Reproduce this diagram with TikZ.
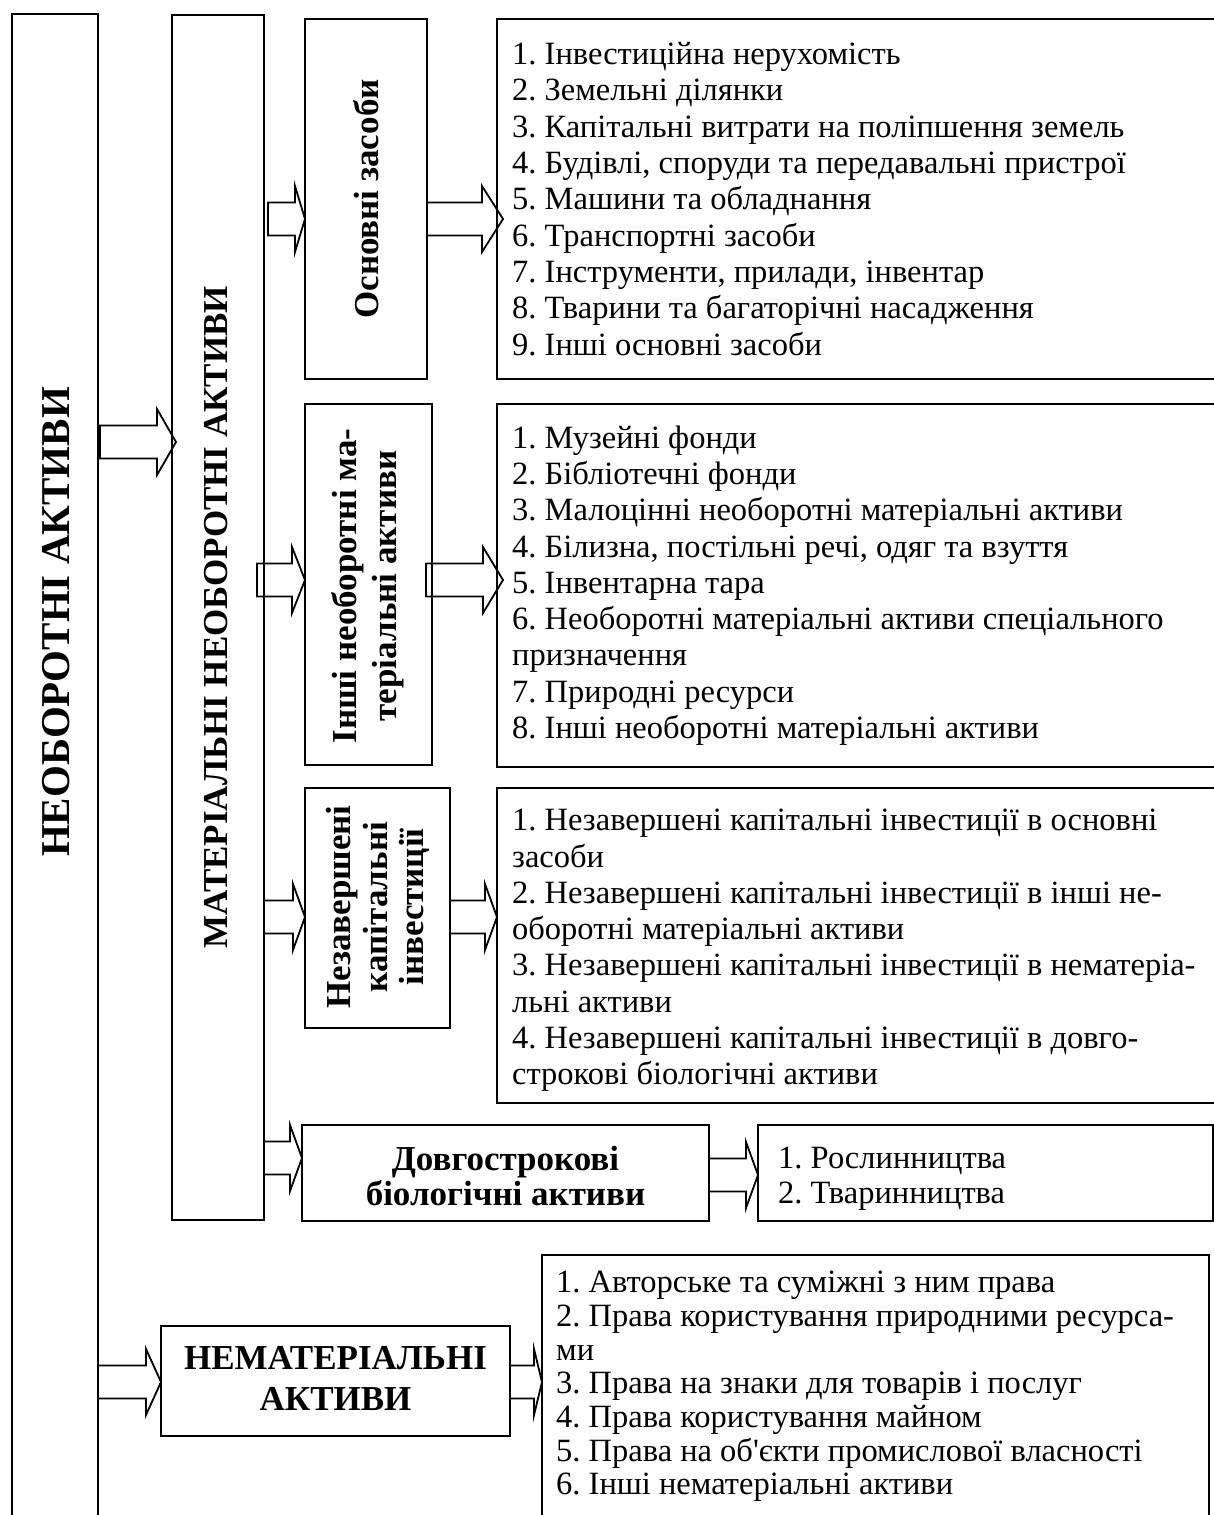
\documentclass[tikz,border=0pt]{standalone}
\usepackage{fontspec}
\setmainfont{Liberation Serif}[Ligatures=TeXOff]
\usetikzlibrary{calc}
\frenchspacing

\tikzset{
  frame/.style={draw, line width=1.8pt, inner sep=0pt, outer sep=0pt, anchor=north west},
  listtext/.style={font=\fontsize{32.5}{36.3}\selectfont, align=left, anchor=west, inner sep=0pt},
  headtext/.style={font=\bfseries\fontsize{35}{38}\selectfont, align=center, inner sep=0pt},
  vhead/.style={headtext, rotate=90},
  arrowline/.style={draw, line width=1.8pt, line join=miter},
}

% outlined block arrow: tail point, tip point, head length
\newcommand\blockarrow[3]{%
  \draw[arrowline] let \p1=(#1), \p2=(#2) in
    (\x1,\y2+16.5pt) -- (\x2-#3,\y2+16.5pt) -- (\x2-#3,\y2+33pt) -- (\x2,\y2)
    -- (\x2-#3,\y2-33pt) -- (\x2-#3,\y2-16.5pt) -- (\x1,\y2-16.5pt) -- cycle;}

\begin{document}
\begin{tikzpicture}[x=1pt, y=-1pt]
\useasboundingbox (0,0) rectangle (1214,1515);
\fill[white] (0,0) rectangle (1214,1515);
\clip (0,0) rectangle (1214,1515);

% main columns
\node[frame, minimum width=86pt, minimum height=1540pt] (b1) at (12,14) {};
\node[frame, minimum width=92pt, minimum height=1205pt] (b2) at (172,15) {};

% tangible assets: category boxes and their lists
\node[frame, minimum width=122pt, minimum height=360pt] (b3) at (305,19) {};
\node[frame, minimum width=721pt, minimum height=360pt] (b4) at (497,19) {};
\node[frame, minimum width=127pt, minimum height=361pt] (b5) at (305,404) {};
\node[frame, minimum width=721pt, minimum height=363pt] (b6) at (497,404) {};
\node[frame, minimum width=145pt, minimum height=240pt] (b7) at (305,788) {};
\node[frame, minimum width=721pt, minimum height=315pt] (b8) at (497,788) {};
\node[frame, minimum width=407pt, minimum height=96pt] (b9) at (302,1125) {};
\node[frame, minimum width=455pt, minimum height=96pt] (b10) at (758,1125) {};

% intangible assets
\node[frame, minimum width=349pt, minimum height=110pt] (b11) at (161,1326) {};
\node[frame, minimum width=667pt, minimum height=300pt] (b12) at (542,1255) {};

% vertical titles
\node[vhead, font=\bfseries\fontsize{41}{45}\selectfont] (t1) at (56,622) {НЕОБОРОТНІ АКТИВИ};
\node[vhead] (t2) at (216,617) {МАТЕРІАЛЬНІ НЕОБОРОТНІ АКТИВИ};
\node[vhead] (t3) at (366,199) {Основні засоби};
\node[vhead, font=\bfseries\fontsize{35}{40}\selectfont] (t5) at (368,586) {Інші необоротні ма-\\теріальні активи};
\node[vhead, font=\bfseries\fontsize{35}{36.5}\selectfont] (t7) at (378,907) {Незавершені\\капітальні\\інвестиції};

% horizontal titles
\node[headtext, font=\bfseries\fontsize{35}{35}\selectfont] (t9) at ($(b9.center)+(0,3)$) {Довгострокові\\біологічні активи};
\node[headtext, font=\bfseries\fontsize{35}{41}\selectfont] (t11) at ($(b11.center)+(0,-3)$) {НЕМАТЕРІАЛЬНІ\\АКТИВИ};

% lists
\node[listtext] (l4) at ($(b4.west)+(15,0)$) {1. Інвестиційна нерухомість\\
2. Земельні ділянки\\
3. Капітальні витрати на поліпшення земель\\
4. Будівлі, споруди та передавальні пристрої\\
5. Машини та обладнання\\
6. Транспортні засоби\\
7. Інструменти, прилади, інвентар\\
8. Тварини та багаторічні насадження\\
9. Інші основні засоби};

\node[listtext] (l6) at ($(b6.west)+(15,0)$) {1. Музейні фонди\\
2. Бібліотечні фонди\\
3. Малоцінні необоротні матеріальні активи\\
4. Білизна, постільні речі, одяг та взуття\\
5. Інвентарна тара\\
6. Необоротні матеріальні активи спеціального\\
призначення\\
7. Природні ресурси\\
8. Інші необоротні матеріальні активи};

\node[listtext] (l8) at ($(b8.west)+(15,5)$) {1. Незавершені капітальні інвестиції в основні\\
засоби\\
2. Незавершені капітальні інвестиції в інші не-\\
оборотні матеріальні активи\\
3. Незавершені капітальні інвестиції в нематеріа-\\
льні активи\\
4. Незавершені капітальні інвестиції в довго-\\
строкові біологічні активи};

\node[listtext, font=\fontsize{32.5}{35}\selectfont] (l10) at ($(b10.west)+(20,6)$) {1. Рослинництва\\
2. Тваринництва};

\node[listtext, font=\fontsize{32.5}{33.7}\selectfont, anchor=north west] (l12) at (556,1271) {1. Авторське та суміжні з ним права\\
2. Права користування природними ресурса-\\
ми\\
3. Права на знаки для товарів і послуг\\
4. Права користування майном\\
5. Права на об'єкти промислової власності\\
6. Інші нематеріальні активи};

% connectors
\blockarrow{$(b1.east)+(2,0)$}{$(b2.west |- 0,442)+(4,0)$}{19pt}
\blockarrow{$(b2.east)+(4,0)$}{b3.west |- 0,219}{10pt}
\blockarrow{b3.east}{$(b4.west |- 0,219)+(6,0)$}{21pt}
\blockarrow{$(b2.east)+(-7,0)$}{b5.west |- 0,580}{13pt}
\blockarrow{$(b5.east)+(-6,0)$}{$(b6.west |- 0,580)+(6,0)$}{20pt}
\blockarrow{b2.east}{b7.west |- 0,917}{12pt}
\blockarrow{b7.east}{b8.west |- 0,917}{12pt}
\blockarrow{b2.east}{b9.west |- 0,1158}{12pt}
\blockarrow{b9.east}{b10.west |- 0,1175}{12pt}
\blockarrow{b1.east}{b11.west |- 0,1382}{15pt}
\blockarrow{b11.east}{b12.west |- 0,1382}{8pt}
\end{tikzpicture}
\end{document}
